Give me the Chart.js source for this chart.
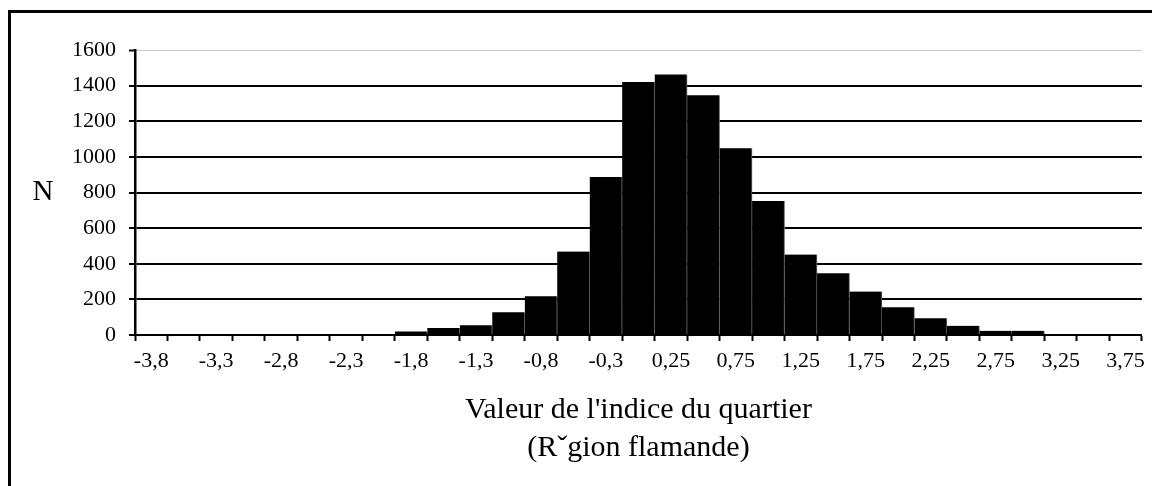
<!DOCTYPE html>
<html>
<head>
<meta charset="utf-8">
<script src="https://cdn.jsdelivr.net/npm/chart.js@4"></script>
<style>
  html, body { margin: 0; padding: 0; background: #fff; overflow: hidden; }
  #wrap { position: relative; width: 1152px; height: 486px; overflow: hidden; }
  #frame { position: absolute; left: 8px; top: 10px; width: 1300px; height: 700px; border: 3px solid #000; }
  canvas { position: absolute; left: 0; top: 0; }
</style>
</head>
<body>
<div id="wrap">
  <div id="frame"></div>
  <canvas id="histChart" width="1152" height="486"></canvas>
</div>
<script>
// one category per bin, only every other bin carries a label
const categories = [
  '-3,8', '', '-3,3', '', '-2,8', '', '-2,3', '', '-1,8', '', '-1,3', '',
  '-0,8', '', '-0,3', '', '0,25', '', '0,75', '', '1,25', '', '1,75', '',
  '2,25', '', '2,75', '', '3,25', '', '3,75'
];
const counts = [
  0, 0, 0, 0, 0, 0, 0, 0,
  20, 40, 55, 128, 218, 469, 887, 1420, 1463, 1346, 1049, 752,
  452, 346, 244, 156, 94, 52, 24, 24,
  0, 0, 0
];
const yLabel = 'N';
const xTitle = ["Valeur de l'indice du quartier", '(R\u02c7gion flamande)'];

const serif = '"Liberation Serif", "Times New Roman", serif';

// horizontal "N" to the left of the value axis
const yLabelPlugin = {
  id: 'yLabel',
  afterDraw(chart) {
    const ctx = chart.ctx;
    const area = chart.chartArea;
    ctx.save();
    ctx.font = '29px ' + serif;
    ctx.fillStyle = '#000';
    ctx.textAlign = 'center';
    ctx.textBaseline = 'middle';
    ctx.fillText(yLabel, 43, (area.top + area.bottom) / 2);
    ctx.restore();
  }
};

new Chart(document.getElementById('histChart'), {
  type: 'bar',
  data: {
    labels: categories,
    datasets: [{
      data: counts,
      backgroundColor: '#000',
      borderColor: '#707070',
      borderWidth: { left: 0, right: 1, top: 0, bottom: 0 },
      borderSkipped: false,
      barPercentage: 1,
      categoryPercentage: 1
    }]
  },
  options: {
    responsive: false,
    animation: false,
    layout: { padding: { left: 0, right: 9, top: 50, bottom: 0 } },
    plugins: { legend: { display: false }, tooltip: { enabled: false } },
    scales: {
      x: {
        offset: true,
        grid: { offset: true, drawOnChartArea: false, drawTicks: true, tickLength: 6, tickColor: '#000', tickWidth: 2 },
        border: { color: '#000', width: 2 },
        ticks: { autoSkip: false, maxRotation: 0, minRotation: 0, padding: 7, color: '#000', font: { family: serif, size: 22 } },
        title: { display: true, text: xTitle, color: '#000', font: { family: serif, size: 30, lineHeight: 1.27 }, padding: { top: 0, bottom: 19 } },
        afterFit(scale) { scale.height = 151; }
      },
      y: {
        min: 0,
        max: 1600,
        ticks: { stepSize: 200, padding: 13, color: '#000', font: { family: serif, size: 22 }, callback: v => String(v) },
        grid: {
          color: c => c.tick && c.tick.value === 1600 ? '#c8c8c8' : '#000',
          lineWidth: c => c.tick && c.tick.value === 1600 ? 1 : 2,
          tickColor: '#000', tickWidth: 2, tickLength: 6
        },
        border: { color: '#000', width: 2.5 },
        afterFit(scale) { scale.width = 135; }
      }
    }
  },
  plugins: [yLabelPlugin]
});
</script>
</body>
</html>
